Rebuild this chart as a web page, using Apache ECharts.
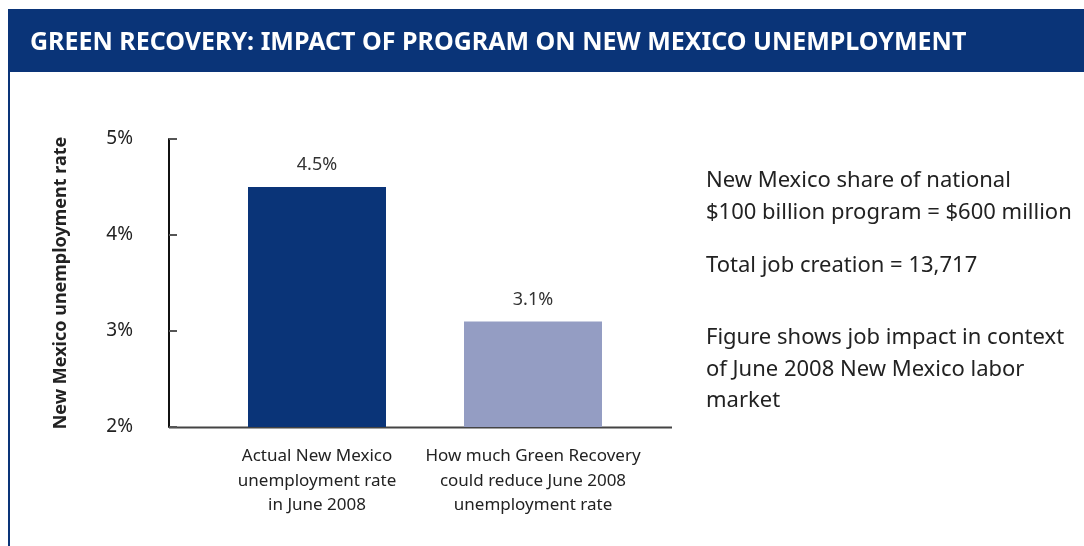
<!DOCTYPE html>
<html>
<head>
<meta charset="utf-8">
<script src="https://cdn.jsdelivr.net/npm/echarts@6/dist/echarts.min.js"></script>
<style>
  html, body { margin: 0; padding: 0; background: #fff; }
  #chart { width: 1084px; height: 546px; }
</style>
</head>
<body>
<div id="chart"></div>
<script>
const titleText = 'GREEN RECOVERY: IMPACT OF PROGRAM ON NEW MEXICO UNEMPLOYMENT';
const categories = [
  'Actual New Mexico\nunemployment rate\nin June 2008',
  'How much Green Recovery\ncould reduce June 2008\nunemployment rate'
];
const values = [4.5, 3.1];
const barColors = ['#0a3478', '#949dc3'];
const yTicks = [2, 3, 4, 5];
const yAxisName = 'New Mexico unemployment rate';
const sideNotes = [
  'New Mexico share of national\n$100 billion program = $600 million',
  'Total job creation = 13,717',
  'Figure shows job impact in context\nof June 2008 New Mexico labor\nmarket'
];

const FONT = '"Noto Sans", "Open Sans", sans-serif';
const chart = echarts.init(document.getElementById('chart'));

chart.setOption({
  animation: false,
  backgroundColor: '#ffffff',
  grid: { left: 209, right: 443, top: 139, bottom: 119, containLabel: false },
  xAxis: {
    type: 'category',
    data: categories,
    axisLine: { show: false },
    axisTick: { show: false },
    axisLabel: {
      color: '#222',
      fontFamily: FONT,
      fontSize: 17,
      lineHeight: 24.5,
      margin: 17,
      interval: 0
    }
  },
  yAxis: {
    type: 'value',
    min: yTicks[0],
    max: yTicks[yTicks.length - 1],
    interval: 1,
    offset: 40,
    name: yAxisName,
    nameLocation: 'middle',
    nameGap: 99,
    nameRotate: 90,
    nameTextStyle: { color: '#222', fontFamily: FONT, fontSize: 18, fontWeight: 'bold' },
    axisLine: { show: true, lineStyle: { color: '#111', width: 2 } },
    axisTick: { show: true, inside: true, length: 8, lineStyle: { color: '#555', width: 2 } },
    splitLine: { show: false },
    axisLabel: {
      color: '#222',
      fontFamily: FONT,
      fontSize: 19,
      margin: 36,
      formatter: v => v + '%'
    }
  },
  series: [{
    type: 'bar',
    data: values.map((v, i) => ({ value: v, itemStyle: { color: barColors[i] } })),
    barWidth: 138,
    label: {
      show: true,
      position: 'top',
      distance: 13,
      color: '#333',
      fontFamily: FONT,
      fontSize: 18,
      formatter: p => p.value.toFixed(1) + '%'
    }
  }],
  graphic: [
    { type: 'rect', shape: { x: 8, y: 9, width: 1076, height: 63 }, style: { fill: '#0a3478' }, silent: true },
    { type: 'text', x: 30, y: 43, style: { text: titleText, fill: '#fff', font: 'bold 25px ' + FONT, textVerticalAlign: 'middle' }, silent: true },
    { type: 'rect', shape: { x: 8, y: 72, width: 2, height: 474 }, style: { fill: '#0a3478' }, silent: true },
    { type: 'line', shape: { x1: 169, y1: 427.5, x2: 672, y2: 427.5 }, style: { stroke: '#444', lineWidth: 2 }, silent: true },
    { type: 'text', x: 706, y: 165, style: { text: sideNotes[0], fill: '#222', font: '22px ' + FONT, lineHeight: 31.5 }, silent: true },
    { type: 'text', x: 706, y: 250, style: { text: sideNotes[1], fill: '#222', font: '22px ' + FONT, lineHeight: 31.5 }, silent: true },
    { type: 'text', x: 706, y: 322, style: { text: sideNotes[2], fill: '#222', font: '22px ' + FONT, lineHeight: 31.5 }, silent: true }
  ]
});
</script>
</body>
</html>
